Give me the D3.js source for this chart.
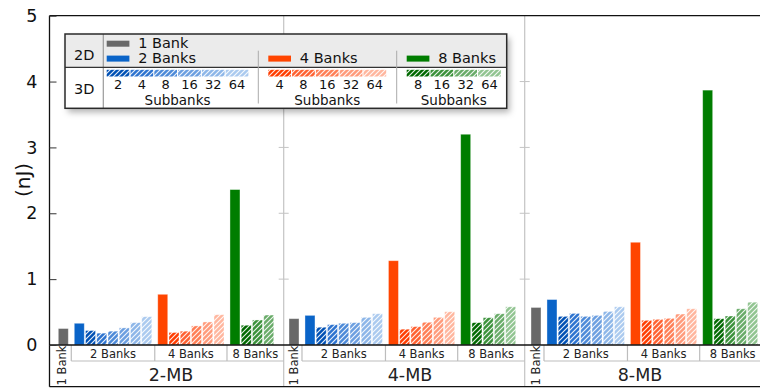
<!DOCTYPE html>
<html>
<head>
<meta charset="utf-8">
<script src="https://cdn.jsdelivr.net/npm/d3@7"></script>
<style>
  body { margin: 0; background: #fff; }
  svg { display: block; font-family: "DejaVu Sans", Verdana, sans-serif; }
</style>
</head>
<body>
<script>
// ---- data (energy per access, nJ) ----
const panels = ['2-MB', '4-MB', '8-MB'];
const groupNames = ['1 Bank', '2 Banks', '4 Banks', '8 Banks'];
const twoSub = ['2', '4', '8', '16', '32', '64'];
const fourSub = ['4', '8', '16', '32', '64'];
const eightSub = ['8', '16', '32', '64'];

const oneBank = [0.25, 0.40, 0.57];
const twoBank2D = [0.33, 0.45, 0.69];
const twoBank3D = [
  [0.22, 0.18, 0.21, 0.26, 0.34, 0.43],
  [0.27, 0.31, 0.33, 0.34, 0.42, 0.475],
  [0.435, 0.48, 0.435, 0.45, 0.51, 0.58]
];
const fourBank2D = [0.77, 1.28, 1.56];
const fourBank3D = [
  [0.19, 0.21, 0.29, 0.35, 0.46],
  [0.24, 0.28, 0.345, 0.42, 0.505],
  [0.375, 0.39, 0.405, 0.47, 0.55]
];
const eightBank2D = [2.36, 3.20, 3.87];
const eightBank3D = [
  [0.30, 0.38, 0.455, null],
  [0.34, 0.415, 0.475, 0.58],
  [0.40, 0.44, 0.55, 0.65]
];
const yTicks = [0, 1, 2, 3, 4, 5];

// ---- colours ----
const grayC = '#696969';
const solidC = ['#0a64c8', '#ff4500', '#007d00'];
const hatchC = [
  ['#0050b4', '#2d73cf', '#4d8ad8', '#6c9fe0', '#8db6e8', '#abcaef'],
  ['#ff3c00', '#ff6030', '#ff7e55', '#ff9b7b', '#ffb69e'],
  ['#006800', '#3a913a', '#68ab68', '#91c491']
];

// ---- layout ----
const W = 760, H = 388;
const plotTop = 15.7, frameBottom = 386.7, axisX = 49.5;
const panelEdges = [49.5, 283.7, 524.7, 765.7];
const firstBarX = [58.3, 289, 531];
const pitch = 11.25, gapUnits = 0.42, barW = 10;
const groupRowY = 361;
const panelLabelX = [171, 410, 640];

const y = d3.scaleLinear().domain([0, 5]).range([345, plotTop]);

const svg = d3.select('body').append('svg')
  .attr('width', W).attr('height', H)
  .attr('viewBox', `0 0 ${W} ${H}`);

const defs = svg.append('defs');
const patId = (g, i) => `hatch-${g}-${i}`;
hatchC.forEach((cols, g) => cols.forEach((c, i) => {
  const p = defs.append('pattern')
    .attr('id', patId(g, i))
    .attr('patternUnits', 'userSpaceOnUse')
    .attr('width', 5).attr('height', 5);
  p.append('rect').attr('width', 5).attr('height', 5).attr('fill', c);
  p.append('path')
    .attr('d', 'M-1,1 l2,-2 M0,5 l5,-5 M4,6 l2,-2')
    .attr('stroke', '#fff').attr('stroke-opacity', 0.9).attr('stroke-width', 1.1);
}));
const shadow = defs.append('filter').attr('id', 'legend-shadow')
  .attr('x', '-10%').attr('y', '-20%').attr('width', '120%').attr('height', '150%');
shadow.append('feDropShadow')
  .attr('dx', 3).attr('dy', 4).attr('stdDeviation', 3)
  .attr('flood-color', '#000').attr('flood-opacity', 0.3);

// ---- panel separators with small ticks ----
panelEdges.slice(1).forEach(px => {
  svg.append('line')
    .attr('x1', px).attr('x2', px).attr('y1', plotTop).attr('y2', frameBottom)
    .attr('stroke', '#c4c4c4').attr('stroke-width', 1.2);
  svg.selectAll(null).data(yTicks.filter(t => t > 0 && t < 5)).enter().append('line')
    .attr('x1', px - 5).attr('x2', px + 5)
    .attr('y1', d => y(d)).attr('y2', d => y(d))
    .attr('stroke', '#c4c4c4').attr('stroke-width', 1);
});

// ---- bars ----
panels.forEach((name, p) => {
  const items = [{ g: 0, value: oneBank[p], fill: grayC }];
  items.push({ g: 1, value: twoBank2D[p], fill: solidC[0] });
  twoBank3D[p].forEach((v, i) => items.push({ g: 1, value: v, fill: `url(#${patId(0, i)})` }));
  items.push({ g: 2, value: fourBank2D[p], fill: solidC[1] });
  fourBank3D[p].forEach((v, i) => items.push({ g: 2, value: v, fill: `url(#${patId(1, i)})` }));
  items.push({ g: 3, value: eightBank2D[p], fill: solidC[2] });
  eightBank3D[p].forEach((v, i) => items.push({ g: 3, value: v, fill: `url(#${patId(2, i)})` }));
  const bars = items.filter(d => d.value != null);
  bars.forEach((d, k) => { d.u = k + d.g * gapUnits; });

  const x = d3.scaleLinear().domain([0, 1]).range([firstBarX[p], firstBarX[p] + pitch]);

  svg.append('g').selectAll('rect').data(bars).enter().append('rect')
    .attr('x', d => x(d.u))
    .attr('width', barW)
    .attr('y', d => y(d.value))
    .attr('height', d => y(0) - y(d.value))
    .attr('fill', d => d.fill)
    .attr('stroke', '#fff').attr('stroke-opacity', 0.45).attr('stroke-width', 0.8);

  // category axis: group boxes
  const ext = [0, 1, 2, 3].map(g => {
    const gb = bars.filter(d => d.g === g);
    return [x(gb[0].u), x(gb[gb.length - 1].u) + barW];
  });
  const bounds = [panelEdges[p]];
  for (let g = 1; g < 4; g++) bounds.push((ext[g - 1][1] + ext[g][0]) / 2);
  bounds.push(panelEdges[p + 1]);

  const ax = svg.append('g');
  ax.append('line')
    .attr('x1', bounds[1]).attr('x2', bounds[4])
    .attr('y1', groupRowY).attr('y2', groupRowY)
    .attr('stroke', '#bdbdbd').attr('stroke-width', 1.2);
  [1, 2, 3].forEach(g => ax.append('line')
    .attr('x1', bounds[g]).attr('x2', bounds[g])
    .attr('y1', y(0)).attr('y2', groupRowY)
    .attr('stroke', '#bdbdbd').attr('stroke-width', 1.2));
  [1, 2, 3].forEach(g => ax.append('text')
    .attr('x', (bounds[g] + bounds[g + 1]) / 2).attr('y', 357.6)
    .attr('text-anchor', 'middle').attr('font-size', 11.5).attr('fill', '#222')
    .text(groupNames[g]));
  const cx = (bounds[0] + bounds[1]) / 2 + 5.5;
  ax.append('text')
    .attr('transform', `translate(${cx},365.5) rotate(-90)`)
    .attr('text-anchor', 'middle').attr('font-size', 11.5).attr('fill', '#222')
    .text(groupNames[0]);
  ax.append('text')
    .attr('x', panelLabelX[p]).attr('y', 380.5)
    .attr('text-anchor', 'middle').attr('font-size', 17.5).attr('fill', '#222')
    .text(name);
});

// ---- frame and value axis ----
svg.append('line').attr('x1', axisX).attr('x2', W + 10).attr('y1', y(0)).attr('y2', y(0))
  .attr('stroke', '#111').attr('stroke-width', 1.3);
svg.append('line').attr('x1', axisX).attr('x2', W + 10).attr('y1', plotTop).attr('y2', plotTop)
  .attr('stroke', '#111').attr('stroke-width', 1.3);
svg.append('line').attr('x1', axisX).attr('x2', W + 10).attr('y1', frameBottom).attr('y2', frameBottom)
  .attr('stroke', '#111').attr('stroke-width', 1.3);

const yAxis = svg.append('g').attr('transform', `translate(${axisX},0)`)
  .call(d3.axisLeft(y).tickValues(yTicks).tickFormat(d3.format('d'))
    .tickSizeInner(-7).tickSizeOuter(0).tickPadding(12));
yAxis.select('.domain').attr('stroke', '#111').attr('stroke-width', 1.3)
  .attr('d', `M0,${plotTop}V${frameBottom}`);
yAxis.selectAll('.tick line').attr('stroke', '#333');
yAxis.selectAll('.tick text')
  .attr('font-size', 17.5).attr('fill', '#111').attr('font-family', '"DejaVu Sans", Verdana, sans-serif');

svg.append('text')
  .attr('transform', 'translate(22.5,180) rotate(-90)')
  .attr('text-anchor', 'middle').attr('dominant-baseline', 'central')
  .attr('font-size', 20).attr('fill', '#111')
  .text('(nJ)');

// ---- legend ----
const L = { x: 65, y: 34, w: 441.7, h: 74.3, mid: 67.3, head: 103.3 };
const lg = svg.append('g');
lg.append('rect').attr('x', L.x).attr('y', L.y).attr('width', L.w).attr('height', L.h)
  .attr('fill', '#fff').attr('filter', 'url(#legend-shadow)');
lg.append('rect').attr('x', L.x).attr('y', L.y).attr('width', L.w).attr('height', L.mid - L.y)
  .attr('fill', '#ebebeb');
lg.append('line').attr('x1', L.head).attr('x2', L.head).attr('y1', L.y).attr('y2', L.y + L.h)
  .attr('stroke', '#9a9a9a').attr('stroke-width', 1.2);
lg.append('line').attr('x1', L.x).attr('x2', L.x + L.w).attr('y1', L.mid).attr('y2', L.mid)
  .attr('stroke', '#333').attr('stroke-width', 1.2);
lg.append('rect').attr('x', L.x).attr('y', L.y).attr('width', L.w).attr('height', L.h)
  .attr('fill', 'none').attr('stroke', '#2a2a2a').attr('stroke-width', 1.5);
lg.append('text').attr('x', (L.x + L.head) / 2).attr('y', 60).attr('text-anchor', 'middle')
  .attr('font-size', 14.5).attr('fill', '#111').text('2D');
lg.append('text').attr('x', (L.x + L.head) / 2).attr('y', 93.5).attr('text-anchor', 'middle')
  .attr('font-size', 14.5).attr('fill', '#111').text('3D');

const secX = [106.7, 268.3, 406.7];
[258.3, 396.7].forEach(dx => lg.append('line')
  .attr('x1', dx).attr('x2', dx).attr('y1', 50.7).attr('y2', 103.5)
  .attr('stroke', '#aaa').attr('stroke-width', 1));

const swW = 22.7, swPitch = 23.8;
lg.append('rect').attr('x', secX[0]).attr('y', 40.7).attr('width', swW).attr('height', 6).attr('fill', grayC);
lg.append('text').attr('x', secX[0] + 31.5).attr('y', 48.3)
  .attr('font-size', 14.5).attr('fill', '#111').text(groupNames[0]);
const subLists = [twoSub, fourSub, eightSub];
secX.forEach((sx, s) => {
  lg.append('rect').attr('x', sx).attr('y', 55.6).attr('width', swW).attr('height', 6).attr('fill', solidC[s]);
  lg.append('text').attr('x', sx + 31.5).attr('y', 63.3)
    .attr('font-size', 14.5).attr('fill', '#111').text(groupNames[s + 1]);
  subLists[s].forEach((lab, i) => {
    const bx = sx + i * swPitch;
    lg.append('rect').attr('x', bx).attr('y', 69.8).attr('width', swW).attr('height', 6.7)
      .attr('fill', `url(#${patId(s, i)})`);
    lg.append('text').attr('x', bx + swW / 2).attr('y', 89.3).attr('text-anchor', 'middle')
      .attr('font-size', 13).attr('fill', '#111').text(lab);
  });
  const n = subLists[s].length;
  lg.append('text').attr('x', sx + ((n - 1) * swPitch + swW) / 2).attr('y', 105)
    .attr('text-anchor', 'middle').attr('font-size', 13.5).attr('fill', '#111').text('Subbanks');
});
</script>
</body>
</html>
